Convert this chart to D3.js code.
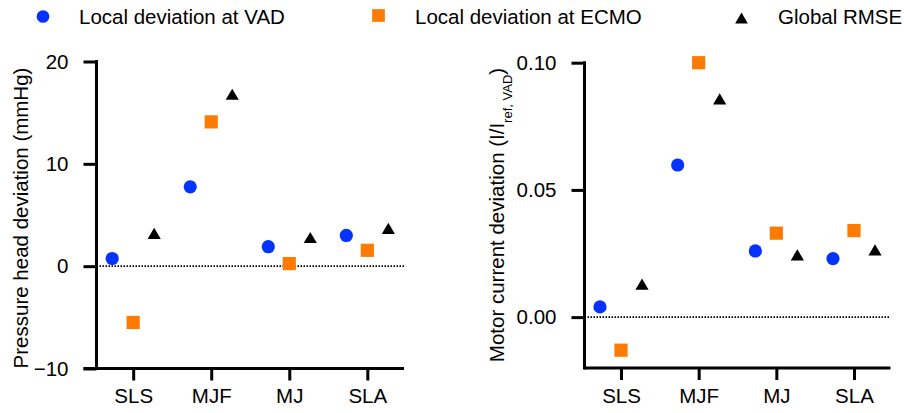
<!DOCTYPE html>
<html>
<head>
<meta charset="utf-8">
<script src="https://cdn.jsdelivr.net/npm/d3@7"></script>
<style>
  body { margin: 0; background: #fff; }
  svg text { font-family: "Liberation Sans", Arial, Helvetica, sans-serif; fill: #000; }
</style>
</head>
<body>
<svg id="chart" width="904" height="413"></svg>
<script>
// ---- data ----
const categories = ["SLS", "MJF", "MJ", "SLA"];
const seriesNames = ["Local deviation at VAD", "Local deviation at ECMO", "Global RMSE"];

const pressureVAD  = [0.75, 7.75, 1.9, 3.0];
const pressureECMO = [-5.5, 14.1, 0.25, 1.55];
const pressureRMSE = [3.2, 16.8, 2.8, 3.7];
const pressureTicks = [-10, 0, 10, 20];

const currentVAD  = [0.004, 0.0598, 0.026, 0.023];
const currentECMO = [-0.013, 0.100, 0.033, 0.034];
const currentRMSE = [0.013, 0.0858, 0.0245, 0.0264];
const currentTicks = [0.00, 0.05, 0.10];

const colors = ["#0433ff", "#ff7a00", "#000000"];
const shapes = ["circle", "square", "triangle"];

const svg = d3.select("#chart");
const FS = 20.5;

function markerPath(shape, s) {
  if (shape === "circle") return d3.symbol().type(d3.symbolCircle).size(Math.PI * (s / 2) * (s / 2))();
  if (shape === "square") return d3.symbol().type(d3.symbolSquare).size(s * s)();
  const w = s, h = s * 0.85;
  return `M0,${-h / 2}L${w / 2},${h / 2}L${-w / 2},${h / 2}Z`;
}

function panel(opts) {
  const g = svg.append("g");
  const x = d3.scalePoint().domain(categories).range([opts.x0, opts.x1]).padding(0.47);
  const off = d3.scalePoint().domain(seriesNames).range([-21, 21]);
  const y = d3.scaleLinear().domain(opts.domain).range([opts.yBottom, opts.yTop]);

  // zero dotted line
  g.append("line")
    .attr("x1", opts.x0).attr("x2", opts.x1)
    .attr("y1", y(0)).attr("y2", y(0))
    .attr("stroke", "#000").attr("stroke-width", 1.6)
    .attr("stroke-dasharray", "1.5,1.5");

  // y axis
  const ya = g.append("g").attr("transform", `translate(${opts.x0},0)`)
    .call(d3.axisLeft(y).tickValues(opts.ticks).tickFormat(opts.fmt).tickSize(13).tickSizeOuter(0).tickPadding(15));
  ya.select(".domain").remove();
  g.append("line").attr("x1", opts.x0).attr("x2", opts.x0)
    .attr("y1", y(opts.ticks[opts.ticks.length - 1]) - 1.5).attr("y2", opts.yBottom + 1.5)
    .attr("stroke", "#000").attr("stroke-width", 3);
  ya.selectAll(".tick line").attr("stroke-width", 3);
  ya.selectAll(".tick text").style("font-size", FS + "px");

  // x axis
  const xa = g.append("g").attr("transform", `translate(0,${opts.yBottom})`)
    .call(d3.axisBottom(x).tickSize(12).tickSizeOuter(0).tickPadding(8));
  xa.select(".domain").remove();
  g.append("line").attr("x1", opts.x0 - (opts.cornerTick ? 13 : 0)).attr("x2", opts.x1)
    .attr("y1", opts.yBottom).attr("y2", opts.yBottom)
    .attr("stroke", "#000").attr("stroke-width", 3);
  xa.selectAll(".tick line").attr("stroke-width", 3);
  xa.selectAll(".tick text").style("font-size", FS + "px");

  // points
  const series = opts.series;
  series.forEach((vals, si) => {
    g.append("g").selectAll("path").data(vals).join("path")
      .attr("transform", (d, i) => `translate(${x(categories[i]) + off(seriesNames[si])},${y(d)})`)
      .attr("d", markerPath(shapes[si], 13.2))
      .attr("fill", colors[si]);
  });

  // y label
  const t = g.append("text")
    .attr("transform", `translate(${opts.labelX},${opts.labelY}) rotate(-90)`)
    .attr("text-anchor", "middle")
    .style("font-size", FS + "px");
  opts.label(t);
}

panel({
  x0: 96.5, x1: 404, yTop: 61.5, yBottom: 368.5,
  domain: [-10, 20], ticks: pressureTicks, fmt: d3.format("d"),
  series: [pressureVAD, pressureECMO, pressureRMSE],
  cornerTick: true,
  labelX: 28, labelY: 218,
  label: t => t.text("Pressure head deviation (mmHg)")
});

panel({
  x0: 584.5, x1: 890.5, yTop: 62.7, yBottom: 368,
  domain: [-0.02, 0.10], ticks: currentTicks, fmt: d3.format(".2f"),
  series: [currentVAD, currentECMO, currentRMSE],
  cornerTick: false,
  labelX: 504, labelY: 215,
  label: t => {
    t.append("tspan").text("Motor current deviation (I/I");
    t.append("tspan").attr("dy", 8).style("font-size", "13px").text("ref, VAD");
    t.append("tspan").attr("dy", -8).text(")");
  }
});

// legend
const legendX = [43, 378.5, 741.5];
const legendTextX = [79, 415, 778];
const legendY = [16.5, 15.5, 18];
const lg = svg.append("g");
seriesNames.forEach((name, i) => {
  lg.append("path")
    .attr("transform", `translate(${legendX[i]},${legendY[i]})`)
    .attr("d", markerPath(shapes[i], 12.7))
    .attr("fill", colors[i]);
  lg.append("text").attr("x", legendTextX[i]).attr("y", 24)
    .style("font-size", FS + "px").text(name);
});
</script>
</body>
</html>
